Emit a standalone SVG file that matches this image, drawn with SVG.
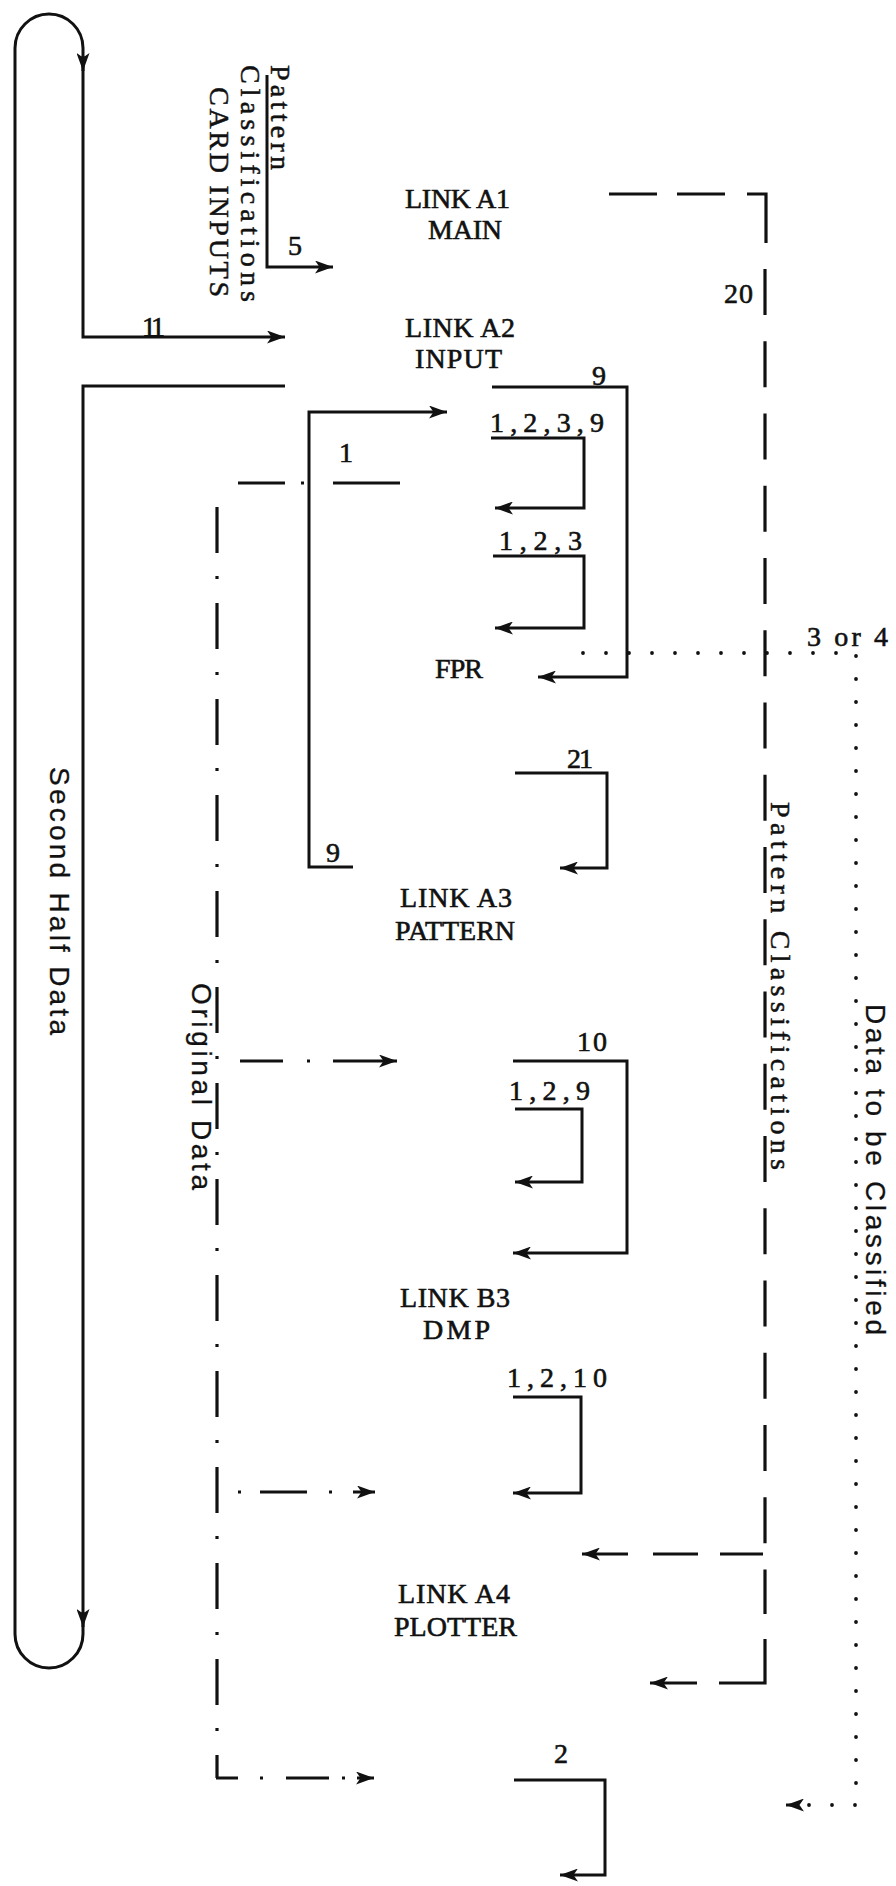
<svg xmlns="http://www.w3.org/2000/svg" width="896" height="1886" viewBox="0 0 896 1886">
<defs>
<style>
.ln{fill:none;stroke:#111;stroke-width:3}
.dd{fill:none;stroke:#111;stroke-width:3.2}
.dot{fill:none;stroke:#111;stroke-width:3.8;stroke-linecap:round;stroke-dasharray:0 23}
.t{font-family:"Liberation Serif","Times New Roman",serif;font-size:28px;fill:#111;stroke:#111;stroke-width:0.6}
.lb{font-family:"Liberation Serif","Times New Roman",serif;font-size:28px;fill:#111;stroke:#111;stroke-width:0.6}
.rs{font-family:"Liberation Serif","Times New Roman",serif;font-size:28px;fill:#111;stroke:#111;stroke-width:0.5}
.ss{font-family:"Liberation Sans",Arial,sans-serif;font-size:28px;fill:#111;stroke:#111;stroke-width:0.3}
</style>
<marker id="ah" viewBox="0 0 18 13" refX="18" refY="6.5" markerWidth="18" markerHeight="13" markerUnits="userSpaceOnUse" orient="auto"><path d="M0,0 L18,6.5 L0,13 L4.5,6.5 z" fill="#111"/></marker>
</defs>
<rect width="896" height="1886" fill="#fff"/>

<g id="node-linkA1"><text class="t" x="405" y="208" textLength="105" lengthAdjust="spacing">LINK A1</text><text class="t" x="428" y="239" textLength="74" lengthAdjust="spacing">MAIN</text></g>
<g id="node-linkA2"><text class="t" x="405" y="337" textLength="110" lengthAdjust="spacing">LINK A2</text><text class="t" x="415" y="368" textLength="87" lengthAdjust="spacing">INPUT</text></g>
<g id="node-fpr"><text class="t" x="435" y="678" textLength="48" lengthAdjust="spacing">FPR</text></g>
<g id="node-linkA3"><text class="t" x="400" y="907" textLength="112" lengthAdjust="spacing">LINK A3</text><text class="t" x="395" y="940" textLength="120" lengthAdjust="spacing">PATTERN</text></g>
<g id="node-linkB3"><text class="t" x="400" y="1307" textLength="110" lengthAdjust="spacing">LINK B3</text><text class="t" x="423" y="1339" textLength="67" lengthAdjust="spacing">DMP</text></g>
<g id="node-linkA4"><text class="t" x="398" y="1603" textLength="112" lengthAdjust="spacing">LINK A4</text><text class="t" x="394" y="1636" textLength="123" lengthAdjust="spacing">PLOTTER</text></g>
<g id="node-card-inputs">
<text class="rs" transform="translate(271,65) rotate(90)" textLength="105" lengthAdjust="spacing">Pattern</text>
<text class="rs" transform="translate(241,65) rotate(90)" textLength="237" lengthAdjust="spacing">Classifications</text>
<text class="rs" transform="translate(210,87) rotate(90)" textLength="210" lengthAdjust="spacing">CARD INPUTS</text>
</g>

<g id="connectors">
<!-- second half data loop -->
<path class="ln" d="M285,386 H83 V1634 A34,34 0 0 1 15,1634 V48 A34,34 0 0 1 83,48 V337 H285" marker-end="url(#ah)"/>
<path class="ln" d="M83,56 V71" marker-end="url(#ah)"/>
<path class="ln" d="M83,1612 V1627" marker-end="url(#ah)"/>
<text class="ss" transform="translate(50,767) rotate(90)" textLength="268" lengthAdjust="spacing">Second Half Data</text>
<text class="lb" x="142" y="336" textLength="23" lengthAdjust="spacing">11</text>
<!-- card inputs -->
<path class="ln" d="M267,75 V267 H333" marker-end="url(#ah)"/>
<text class="lb" x="288" y="255">5</text>
<!-- pattern classifications (dashed) -->
<path class="dd" d="M609,194 H766 V243" stroke-dasharray="48 20 48 22 200"/>
<path class="dd" d="M765,269 V1614" stroke-dasharray="46 26.25"/>
<path class="dd" d="M765,1639 V1683 H719"/>
<path class="dd" d="M697,1683 H650" marker-end="url(#ah)"/>
<path class="dd" d="M763,1554 H582" stroke-dasharray="43 22 45 25 100" marker-end="url(#ah)"/>
<text class="lb" x="724" y="303" textLength="29" lengthAdjust="spacing">20</text>
<text class="rs" font-size="26" transform="translate(771,802) rotate(90)" textLength="368" lengthAdjust="spacing">Pattern Classifications</text>
<!-- LINK A2 internal -->
<path class="ln" d="M492,387 H627 V677 H538" marker-end="url(#ah)"/>
<text class="lb" x="592" y="385">9</text>
<path class="ln" d="M491,438 H584 V508 H495" marker-end="url(#ah)"/>
<text class="lb" x="490" y="432" textLength="114" lengthAdjust="spacing">1,2,3,9</text>
<path class="ln" d="M493,556 H584 V628 H495" marker-end="url(#ah)"/>
<text class="lb" x="499" y="550" textLength="83" lengthAdjust="spacing">1,2,3</text>
<path class="ln" d="M353,867 H309 V412 H447" marker-end="url(#ah)"/>
<text class="lb" x="326" y="862">9</text>
<!-- original data (dash-dot) -->
<path class="dd" d="M400,483 H218" stroke-dasharray="67 29 3 16 47 21 3 100"/>
<text class="lb" x="339" y="462">1</text>
<path class="dd" d="M217,483 V1778" stroke-dasharray="46 23 3 24" stroke-dashoffset="72"/>
<path class="dd" d="M217,1061 H397" stroke-dasharray="0 23 43 24 3 23 100" marker-end="url(#ah)"/>
<path class="dd" d="M217,1492 H375" stroke-dasharray="0 21 3 19 47 22 3 21 100" marker-end="url(#ah)"/>
<path class="dd" d="M216,1778 H374" stroke-dasharray="22 22 3 23 43 13 3 12 100" marker-end="url(#ah)"/>
<text class="ss" transform="translate(192,983) rotate(90)" textLength="207" lengthAdjust="spacing">Original Data</text>
<!-- data to be classified (dotted) -->
<path class="dot" d="M583,653 H856 V1805 H790"/>
<path class="ln" d="M797,1805 H786" marker-end="url(#ah)"/>
<text class="lb" x="807" y="646" textLength="81" lengthAdjust="spacing">3 or 4</text>
<text class="ss" transform="translate(866,1004) rotate(90)" textLength="331" lengthAdjust="spacing">Data to be Classified</text>
<!-- LINK A3 -->
<path class="ln" d="M515,773 H607 V868 H560" marker-end="url(#ah)"/>
<text class="lb" x="567" y="768" textLength="26" lengthAdjust="spacing">21</text>
<!-- LINK B3 -->
<path class="ln" d="M513,1061 H627 V1253 H513" marker-end="url(#ah)"/>
<text class="lb" x="577" y="1051" textLength="30" lengthAdjust="spacing">10</text>
<path class="ln" d="M515,1109 H582 V1182 H515" marker-end="url(#ah)"/>
<text class="lb" x="509" y="1100" textLength="81" lengthAdjust="spacing">1,2,9</text>
<path class="ln" d="M513,1397 H581 V1493 H513" marker-end="url(#ah)"/>
<text class="lb" x="507" y="1387" textLength="100" lengthAdjust="spacing">1,2,10</text>
<!-- LINK A4 -->
<path class="ln" d="M514,1780 H605 V1875 H560" marker-end="url(#ah)"/>
<text class="lb" x="554" y="1763">2</text>
</g>
</svg>
